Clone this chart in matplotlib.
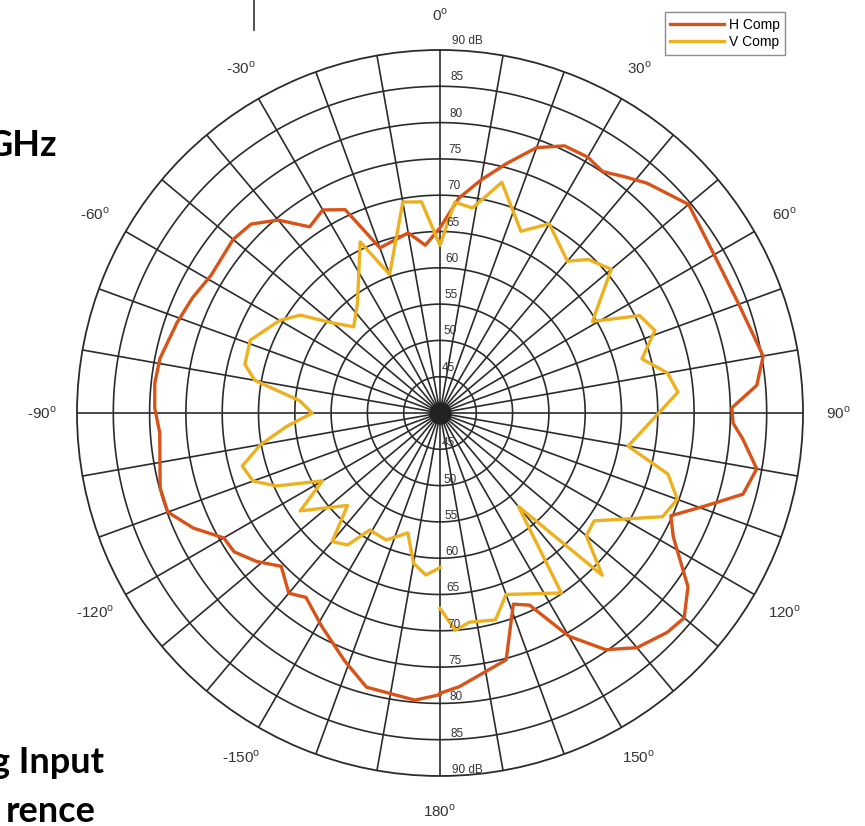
import numpy as np
import matplotlib.pyplot as plt
from matplotlib.lines import Line2D

# H Comp: angle (deg, clockwise from top) and level (dB)
h_angle = [-180, -175, -165, -159, -151, -144, -140, -134, -129, -124, -120, -115,
           -110, -105, -94, -89, -84, -79, -71, -65, -59, -50, -45, -40, -35, -30,
           -25, -20, -10, -5, 0, 5, 10, 15, 20, 25, 30, 34, 38, 42, 50, 60, 70, 80,
           85, 89, 92, 95, 100, 105, 109, 114, 118, 124, 125, 130, 134, 140, 145,
           150, 155, 159, 165, 176, 180]
h_db = [78.8, 79.7, 79.1, 76.6, 73.6, 71.4, 72.4, 70.4, 72.5, 74.2, 74.4, 77.5,
        79.9, 79.9, 78.7, 79.3, 79.5, 79.3, 78.3, 77.6, 76.8, 77.2, 76.8, 74.7, 71.3, 72.3,
        70.9, 64.2, 65.2, 63.2, 65.5, 69.7, 72.6, 75.6, 78.9, 80.6, 80.7, 80.1, 81.3, 82.6,
        84.7, 83.6, 83.8, 85.2, 83.8, 80.2, 80.4, 81.9, 84.3, 83.2, 79.0, 74.8, 76.4, 80.8,
        81.7, 83.9, 83.5, 82.2, 79.8, 75.5, 69.2, 68.2, 75.2, 77.8, 78.6]

# V Comp
v_angle = [-180, -175, -170, -165, -157, -149, -145, -140, -135, -125, -120, -114,
           -110, -105, -100, -95, -90, -85, -80, -76, -69, -60, -55, -50, -45, -37,
           -25, -20, -10, -5, 0, 4, 9, 15, 24, 30, 40, 44, 50, 59, 64, 69, 75, 80,
           85, 100, 105, 110, 115, 125, 130, 135, 140, 146, 160, 165, 172, 176, 180]
v_db = [61.3, 62.4, 61.0, 57.1, 59.0, 58.8, 62.2, 63.1, 58.0, 63.5, 58.7, 64.7,
        67.4, 68.2, 65.1, 61.2, 57.6, 59.4, 65.9, 67.7, 68.0, 65.5, 63.5, 59.3, 56.8, 58.9,
        66.0, 60.3, 69.5, 69.2, 63.1, 69.1, 68.6, 72.9, 67.4, 70.1, 67.3, 69.4, 70.8, 64.5,
        70.6, 71.7, 68.8, 71.8, 72.9, 66.3, 72.5, 74.8, 73.8, 65.9, 66.3, 71.6, 56.8, 69.9,
        66.6, 69.5, 69.1, 70.0, 66.9]

ring_db = [45, 50, 55, 60, 65, 70, 75, 80, 85, 90]
spoke_deg = np.arange(0, 360, 10)
angle_ticks = [0, 30, 60, 90, 120, 150, 180, -150, -120, -90, -60, -30]

plt.rcParams['font.family'] = ['Liberation Sans', 'DejaVu Sans']
plt.rcParams['mathtext.fontset'] = 'custom'
plt.rcParams['mathtext.rm'] = 'Liberation Sans'

W, H = 865, 826
fig = plt.figure(figsize=(W / 100, H / 100), dpi=100)
cx, cy, rad = 440, 413, 363
ax = fig.add_axes([(cx - rad) / W, (H - cy - rad) / H, 2 * rad / W, 2 * rad / H],
                  projection='polar')
ax.set_theta_zero_location('N')
ax.set_theta_direction(-1)
ax.set_ylim(40, 90)
ax.grid(False)
ax.set_xticks([])
ax.set_yticks([])
ax.spines['polar'].set_color('#2b2b2b')
ax.spines['polar'].set_linewidth(1.3)

grid_col = '#2b2b2b'
th = np.linspace(0, 2 * np.pi, 721)
for r in ring_db[:-1]:
    ax.plot(th, np.full_like(th, r), color=grid_col, lw=1.2, zorder=1)
for d in spoke_deg:
    ax.plot([np.deg2rad(d)] * 2, [40, 90], color=grid_col, lw=1.2, zorder=1)
ax.plot([0], [40], 'o', ms=15, color='#222222', zorder=1)

ax.plot(np.deg2rad(h_angle), h_db, color='#D95319', lw=2.4, label='H Comp', zorder=3)
ax.plot(np.deg2rad(v_angle), v_db, color='#EDB120', lw=2.4, label='V Comp', zorder=3)

# ring labels above and below the centre
for r in ring_db:
    lab = '90 dB' if r == 90 else str(r)
    ax.annotate(lab, xy=(np.deg2rad(1.7), r), xytext=(1, 6), textcoords='offset pixels',
                ha='left', va='baseline', fontsize=8.5, color='#333333', zorder=4)
    ax.annotate(lab, xy=(np.deg2rad(178.3), r), xytext=(1, 3), textcoords='offset pixels',
                ha='left', va='baseline', fontsize=8.5, color='#333333', zorder=4)

for a in angle_ticks:
    ax.text(np.deg2rad(a), 40 + 398 / rad * 50, f'{a}' + r'$^{\rm o}$', ha='center',
            va='center', fontsize=11, color='#333333', clip_on=False)

fig.legend(loc='upper right', bbox_to_anchor=(785 / W, 1 - 12 / H), fontsize=10,
           frameon=True, fancybox=False, edgecolor='#8c8c8c', framealpha=1,
           handlelength=3.9, handletextpad=0.3, borderpad=0.4, labelspacing=0.25,
           borderaxespad=0)

# pieces of the surrounding slide
bold = dict(fontsize=26, fontweight='bold', family=['Lato', 'DejaVu Sans'], color='black')
fig.text(57 / W, 1 - 156 / H, 'GHz', ha='right', va='baseline', **bold)
fig.text(104 / W, 1 - 773 / H, 'g Input', ha='right', va='baseline', **bold)
fig.text(96 / W, 1 - 822 / H, 'rence', ha='right', va='baseline', **bold)
fig.add_artist(Line2D([254 / W] * 2, [1, 1 - 30 / H], transform=fig.transFigure,
                      color='#444444', lw=1.3))

fig.savefig('out.png', dpi=100)
